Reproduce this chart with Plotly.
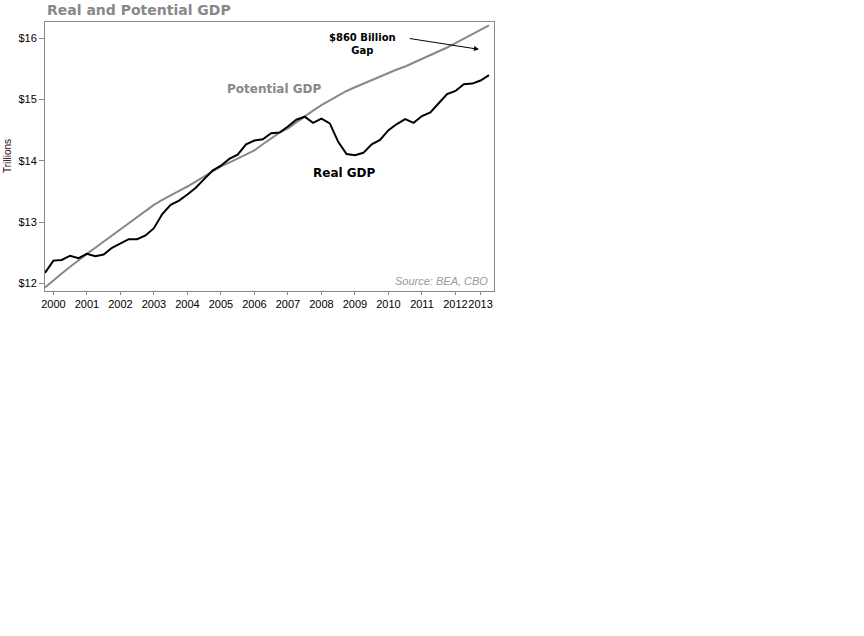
import plotly.graph_objects as go

# Quarterly data, 1999 Q4 .. 2013 Q1 (trillions of dollars)
quarters = [1999.75 + 0.25 * i for i in range(54)]

real_gdp = [12.17, 12.37, 12.38, 12.45, 12.41, 12.48, 12.44, 12.47, 12.58, 12.65,
            12.72, 12.72, 12.78, 12.90, 13.13, 13.28, 13.35, 13.45, 13.56, 13.70,
            13.84, 13.92, 14.03, 14.10, 14.27, 14.33, 14.35, 14.45, 14.46, 14.56,
            14.67, 14.72, 14.62, 14.69, 14.61, 14.31, 14.11, 14.09, 14.13, 14.27,
            14.34, 14.50, 14.60, 14.68, 14.62, 14.73, 14.79, 14.94, 15.09, 15.14,
            15.25, 15.26, 15.31, 15.40]

potential_gdp = [11.93, 12.05, 12.16, 12.27, 12.38, 12.48, 12.58, 12.68, 12.78, 12.87,
                 12.97, 13.07, 13.18, 13.28, 13.36, 13.44, 13.51, 13.58, 13.66, 13.74,
                 13.83, 13.91, 13.97, 14.04, 14.10, 14.17, 14.27, 14.37, 14.46, 14.53,
                 14.63, 14.72, 14.82, 14.91, 14.99, 15.07, 15.14, 15.20, 15.26, 15.32,
                 15.38, 15.43, 15.49, 15.54, 15.60, 15.66, 15.72, 15.78, 15.85, 15.92,
                 15.99, 16.06, 16.13, 16.21]

x_tick_vals = [2000, 2001, 2002, 2003, 2004, 2005, 2006, 2007, 2008, 2009, 2010, 2011, 2012, 2012.75]
x_tick_text = ["2000", "2001", "2002", "2003", "2004", "2005", "2006", "2007", "2008",
               "2009", "2010", "2011", "2012", "2013"]
y_tick_vals = [12, 13, 14, 15, 16]
y_tick_text = ["$12", "$13", "$14", "$15", "$16"]

GRAY = "#888888"

fig = go.Figure()
fig.add_trace(go.Scatter(x=quarters, y=potential_gdp, mode="lines",
                         line=dict(color=GRAY, width=2), name="Potential GDP",
                         hoverinfo="skip"))
fig.add_trace(go.Scatter(x=quarters, y=real_gdp, mode="lines",
                         line=dict(color="#000000", width=2), name="Real GDP",
                         hoverinfo="skip"))

fig.update_layout(
    width=864, height=636,
    margin=dict(l=45, r=370, t=22, b=345),
    paper_bgcolor="white", plot_bgcolor="white",
    showlegend=False,
    font=dict(family="Liberation Sans, Arial, sans-serif", size=11, color="#000000"),
    title=dict(text="<b>Real and Potential GDP</b>", x=47 / 864, xanchor="left",
               y=1 - 10 / 636, yanchor="middle",
               font=dict(family="DejaVu Sans, Verdana, sans-serif", size=14, color=GRAY)),
)

fig.update_xaxes(range=[1999.75, 2013.15], tickmode="array", tickvals=x_tick_vals,
                 ticktext=x_tick_text, ticks="outside", ticklen=3, tickcolor=GRAY,
                 tickangle=0, automargin=False,
                 showline=True, linecolor=GRAY, linewidth=1, mirror=True,
                 showgrid=False, zeroline=False,
                 tickfont=dict(family="Liberation Sans, Arial", size=11, color="#000000"))
fig.update_yaxes(range=[11.874, 16.266], tickmode="array", tickvals=y_tick_vals,
                 ticktext=y_tick_text, ticks="outside", ticklen=5, tickcolor=GRAY,
                 automargin=False,
                 showline=True, linecolor=GRAY, linewidth=1, mirror=True,
                 showgrid=False, zeroline=False,
                 tickfont=dict(family="Liberation Sans, Arial", size=11, color="#000000"))

bold_font = "DejaVu Sans, Verdana, sans-serif"
fig.add_annotation(x=2006.59, y=15.17, xref="x", yref="y", text="<b>Potential GDP</b>",
                   showarrow=False, font=dict(family=bold_font, size=12, color=GRAY))
fig.add_annotation(x=2008.7, y=13.80, xref="x", yref="y", text="<b>Real GDP</b>",
                   showarrow=False, font=dict(family=bold_font, size=12, color="#000000"))
fig.add_annotation(x=2009.24, y=15.91, xref="x", yref="y", text="<b>$860 Billion<br>Gap</b>",
                   showarrow=False, align="center",
                   font=dict(family=bold_font, size=10, color="#000000"))
fig.add_annotation(x=2012.7, y=15.82, xref="x", yref="y", ax=2010.59, ay=16.0,
                   axref="x", ayref="y", text="", showarrow=True, arrowhead=2,
                   arrowsize=1, arrowwidth=1, arrowcolor="#000000")
fig.add_annotation(x=2013.02, y=12.03, xref="x", yref="y", text="<i>Source: BEA, CBO</i>",
                   showarrow=False, xanchor="right",
                   font=dict(family="Liberation Sans, Arial", size=11, color="#999999"))
fig.add_annotation(x=(7 - 45) / 449, y=(291 - 156) / 269, xref="paper", yref="paper",
                   xanchor="center", yanchor="middle",
                   text="Trillions", textangle=-90, showarrow=False,
                   font=dict(family="Liberation Sans, Arial", size=10, color="#330022"))

fig.write_html("out.html", config={"displayModeBar": False},
               post_script="document.body.style.margin='0px';")
